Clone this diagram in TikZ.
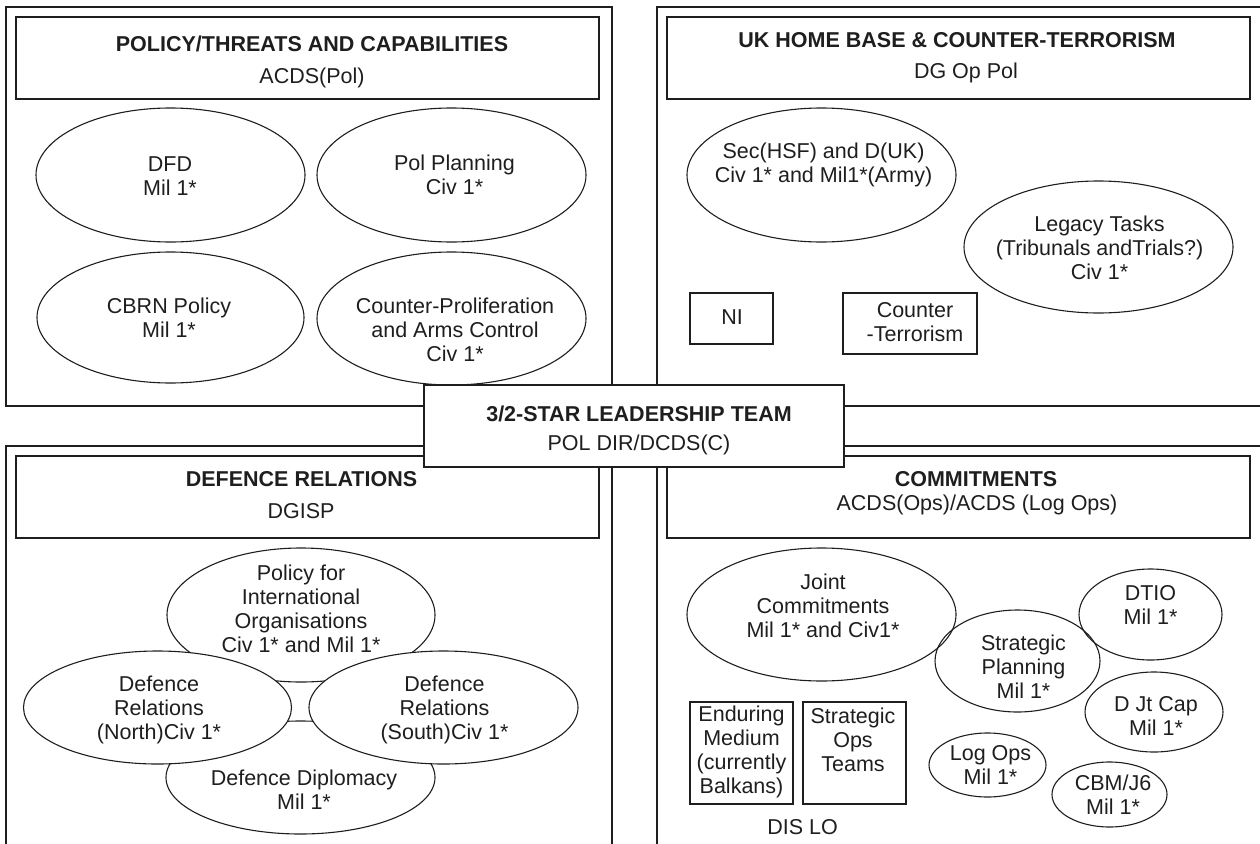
\documentclass[tikz,border=0pt]{standalone}
\usepackage{fontspec}
\setmainfont{Liberation Sans}
\usetikzlibrary{shapes.geometric}
\definecolor{ink}{HTML}{1E1E1E}
\begin{document}
\begin{tikzpicture}[x=1pt,y=-1pt,
  panel/.style={draw=ink, line width=1.6pt, rectangle, inner sep=0pt},
  hdr/.style={draw=ink, line width=1.6pt, rectangle, inner sep=0pt},
  unit/.style={draw=ink, line width=1.4pt, rectangle, inner sep=0pt},
  oval/.style={draw=ink, line width=1.1pt, ellipse, inner sep=0pt},
  solid oval/.style={oval, fill=white},
  txt/.style={text=ink, align=center, inner sep=0pt,
    font=\fontsize{21.5}{24}\selectfont},
  ttl/.style={txt, font=\fontsize{21.5}{24}\selectfont\bfseries}]

\useasboundingbox (0,0) rectangle (1260,843);
\clip (0,0) rectangle (1260,843);

% outer panels
\node[panel, minimum width=606, minimum height=399] (pTL) at (309,206.5) {};
\node[panel, minimum width=618, minimum height=399] (pTR) at (966,206.5) {};
\node[panel, minimum width=606, minimum height=424] (pBL) at (309,658) {};
\node[panel, minimum width=618, minimum height=424] (pBR) at (966,658) {};

% panel headings
\node[hdr, minimum width=583, minimum height=82] (hTL) at (307.5,58) {};
\node[hdr, minimum width=583, minimum height=82] (hTR) at (958.5,58) {};
\node[hdr, minimum width=583, minimum height=82] (hBL) at (307.5,497) {};
\node[hdr, minimum width=583, minimum height=82] (hBR) at (958.5,497) {};

\node[ttl] (tTL) at (312,44) {POLICY/THREATS AND CAPABILITIES};
\node[txt] (sTL) at (312,78) {ACDS(Pol)};
\node[ttl] (tTR) at (957,40) {UK HOME BASE \& COUNTER-TERRORISM};
\node[txt] (sTR) at (966,73) {DG Op Pol};
\node[ttl] (tBL) at (301.5,479) {DEFENCE RELATIONS};
\node[txt] (sBL) at (301,511) {DGISP};
\node[ttl] (tBR) at (976,479) {COMMITMENTS};
\node[txt] (sBR) at (977,505) {ACDS(Ops)/ACDS (Log Ops)};

% policy / threats and capabilities
\node[solid oval, minimum width=269, minimum height=134] (dfd) at (170.5,175) {};
\node[solid oval, minimum width=269, minimum height=134] (polplan) at (451.5,175) {};
\node[solid oval, minimum width=267, minimum height=131] (cbrn) at (170.5,317.5) {};
\node[solid oval, minimum width=269, minimum height=133] (cpac) at (451.5,318.5) {};
\node[txt] (dfdT) at (170,176.5) {DFD\\Mil 1*};
\node[txt] (polplanT) at (454.5,175) {Pol Planning\\Civ 1*};
\node[txt] (cbrnT) at (169,317.5) {CBRN Policy\\Mil 1*};
\node[txt] (cpacT) at (455,330) {Counter-Proliferation\\and Arms Control\\Civ 1*};

% UK home base & counter-terrorism
\node[oval, minimum width=269, minimum height=134] (hsf) at (821.5,175) {};
\node[txt] (hsfT) at (823.5,165) {Sec(HSF) and D(UK)\\Civ 1* and Mil1*(Army)};
\node[oval, minimum width=269, minimum height=132] (legacy) at (1098.5,247) {};
\node[txt] (legacyT) at (1099.5,248) {Legacy Tasks\\(Tribunals andTrials?)\\Civ 1*};
\node[unit, minimum width=83, minimum height=51] (ni) at (731.5,318.5) {};
\node[txt] (niT) at (732,317) {NI};
\node[unit, minimum width=134, minimum height=61] (ct) at (910,323.5) {};
\node[txt] (ctT) at (915,322.5) {Counter\\-Terrorism};

% defence relations
\node[solid oval, minimum width=268, minimum height=134] (intorg) at (301,615) {};
\node[solid oval, minimum width=269, minimum height=113] (dipl) at (300.5,777.5) {};
\node[solid oval, minimum width=268, minimum height=113] (north) at (157.5,707.5) {};
\node[solid oval, minimum width=269, minimum height=113] (south) at (443.5,707.5) {};
\node[txt] (intorgT) at (301,608.5) {Policy for\\International\\Organisations\\Civ 1* and Mil 1*};
\node[txt] (diplT) at (304,789.5) {Defence Diplomacy\\Mil 1*};
\node[txt] (northT) at (159,710) {Defence\\Relations\\(North)Civ 1*};
\node[txt] (southT) at (444.5,710) {Defence\\Relations\\(South)Civ 1*};

% commitments
\node[oval, minimum width=269, minimum height=133] (joint) at (821.5,614.5) {};
\node[oval, minimum width=165, minimum height=102] (strat) at (1017.5,661) {};
\node[oval, minimum width=143, minimum height=91] (dtio) at (1150.5,614.5) {};
\node[oval, minimum width=138, minimum height=80] (djc) at (1154,712) {};
\node[oval, minimum width=117, minimum height=64] (logops) at (987.5,765) {};
\node[oval, minimum width=115, minimum height=65] (cbm) at (1109.5,794.5) {};
\node[txt] (jointT) at (823,606) {Joint\\Commitments\\Mil 1* and Civ1*};
\node[txt] (stratT) at (1023.5,667) {Strategic\\Planning\\Mil 1*};
\node[txt] (dtioT) at (1150.5,605) {DTIO\\Mil 1*};
\node[txt] (djcT) at (1156,716) {D Jt Cap\\Mil 1*};
\node[txt] (logopsT) at (990.5,765) {Log Ops\\Mil 1*};
\node[txt] (cbmT) at (1113,795) {CBM/J6\\Mil 1*};
\node[unit, minimum width=103, minimum height=102] (endur) at (741.5,753) {};
\node[txt] (endurT) at (741.5,752) {Enduring\\Medium\\(currently\\Balkans)};
\node[unit, minimum width=103, minimum height=102] (sot) at (854.5,753) {};
\node[txt] (sotT) at (853,740) {Strategic\\Ops\\Teams};
\node[txt] (dislo) at (802.5,827) {DIS LO};

% leadership team, over everything
\node[hdr, fill=white, minimum width=420, minimum height=82] (lead) at (634,426) {};
\node[ttl] (leadT) at (639,414) {3/2-STAR LEADERSHIP TEAM};
\node[txt] (leadS) at (639,445) {POL DIR/DCDS(C)};
\end{tikzpicture}
\end{document}
